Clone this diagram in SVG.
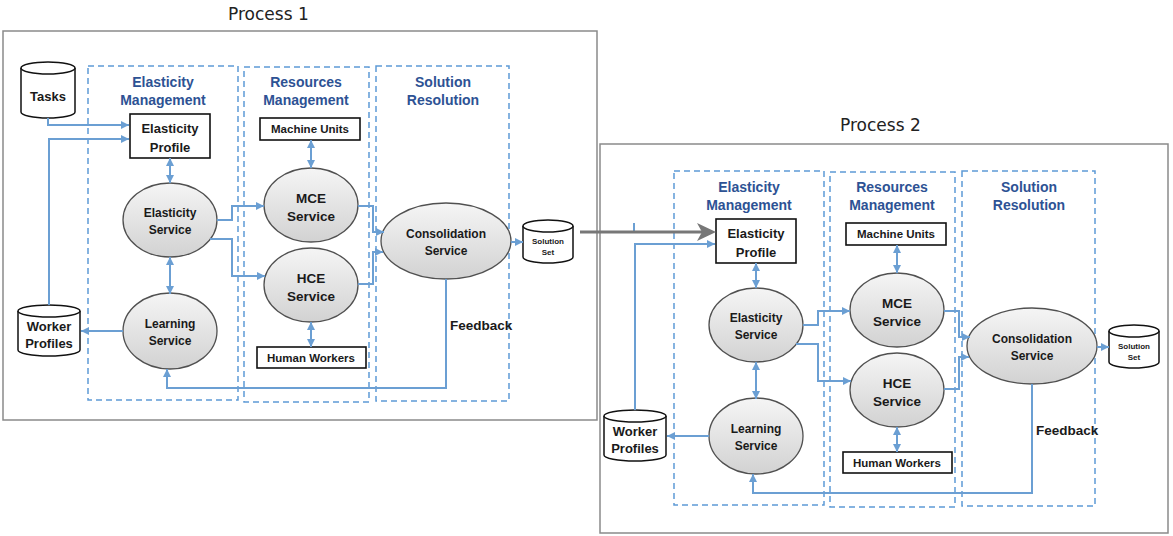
<svg xmlns="http://www.w3.org/2000/svg" width="1173" height="536" viewBox="0 0 1173 536">
<defs>
<style>
.frame{fill:#fff;stroke:#8a8a8a;stroke-width:1.5}
.ptitle{font-family:"DejaVu Sans",sans-serif;font-size:17px;fill:#222}
.lane{fill:none;stroke:#5e9bd6;stroke-width:1.5;stroke-dasharray:6 4}
.lt{font-family:"Liberation Sans",Arial,sans-serif;font-weight:bold;font-size:14px;fill:#2d5294;text-anchor:middle}
.svc{fill:url(#eg);stroke:#505050;stroke-width:1.3}
.box{fill:#fff;stroke:#111;stroke-width:1.6}
.cyl{fill:#fff;stroke:#111;stroke-width:1.5}
.t{font-family:"Liberation Sans",Arial,sans-serif;font-weight:bold;fill:#1a1a1a;text-anchor:middle}
.s12{font-size:12px}.s13{font-size:13px}.s135{font-size:13.5px}.s115{font-size:11.5px}.s8{font-size:8px}
.c{fill:none;stroke:#6b9fd3;stroke-width:2}
.fb{font-family:"Liberation Sans",Arial,sans-serif;font-weight:bold;font-size:13.5px;fill:#1a1a1a}
</style>
<marker id="ah" viewBox="0 0 10 10" refX="10" refY="5" markerUnits="userSpaceOnUse" markerWidth="8" markerHeight="8" orient="auto-start-reverse">
<path d="M0,0 L10,5 L0,10 Z" fill="#6b9fd3"/>
</marker>
<linearGradient id="eg" x1="0" y1="0" x2="0" y2="1">
<stop offset="0" stop-color="#f5f5f5"/>
<stop offset="1" stop-color="#d2d2d2"/>
</linearGradient>
</defs>

<g id="process1-frame">
<rect class="frame" x="3" y="31" width="594" height="389"/>
<text class="ptitle" x="228" y="20">Process 1</text>
</g>
<g id="process2-frame">
<rect class="frame" x="600" y="144" width="568" height="389"/>
<text class="ptitle" x="840" y="131">Process 2</text>
</g>

<!-- Process 1 -->
<g id="p1">
<g id="p1-lane-elasticity"><rect class="lane" x="88" y="66" width="150" height="334"/><text class="lt" x="163" y="87">Elasticity</text><text class="lt" x="163" y="105">Management</text></g>
<g id="p1-lane-resources"><rect class="lane" x="244" y="67" width="125" height="335"/><text class="lt" x="306" y="87">Resources</text><text class="lt" x="306" y="105">Management</text></g>
<g id="p1-lane-solution"><rect class="lane" x="376" y="66" width="133" height="335"/><text class="lt" x="443" y="87">Solution</text><text class="lt" x="443" y="105">Resolution</text></g>

<g id="p1-tasks"><path class="cyl" d="M21,68 V112 A27,6 0 0 0 75,112 V68"/><ellipse class="cyl" cx="48" cy="68" rx="27" ry="6"/><text class="t s13" x="48" y="101">Tasks</text></g>
<g id="p1-worker-profiles"><path class="cyl" d="M18,311 V350 A31,6 0 0 0 80,350 V311"/><ellipse class="cyl" cx="49" cy="311" rx="31" ry="6"/><text class="t s13" x="49" y="331">Worker</text><text class="t s13" x="49" y="348">Profiles</text></g>
<g id="p1-elasticity-profile"><rect class="box" x="130" y="114" width="80" height="44"/><text class="t s13" x="170" y="133">Elasticity</text><text class="t s13" x="170" y="152">Profile</text></g>
<g id="p1-elasticity-service"><ellipse class="svc" cx="170" cy="220" rx="47" ry="37"/><text class="t s12" x="170" y="217">Elasticity</text><text class="t s12" x="170" y="234">Service</text></g>
<g id="p1-learning-service"><ellipse class="svc" cx="170" cy="331" rx="47" ry="38"/><text class="t s12" x="170" y="328">Learning</text><text class="t s12" x="170" y="345">Service</text></g>
<g id="p1-machine-units"><rect class="box" x="260" y="118" width="100" height="22"/><text class="t s115" x="310" y="133">Machine Units</text></g>
<g id="p1-mce-service"><ellipse class="svc" cx="311" cy="205" rx="47" ry="37"/><text class="t s135" x="311" y="203">MCE</text><text class="t s135" x="311" y="221">Service</text></g>
<g id="p1-hce-service"><ellipse class="svc" cx="311" cy="285" rx="47" ry="37"/><text class="t s135" x="311" y="283">HCE</text><text class="t s135" x="311" y="301">Service</text></g>
<g id="p1-human-workers"><rect class="box" x="257" y="347" width="109" height="21"/><text class="t s115" x="311" y="362">Human Workers</text></g>
<g id="p1-consolidation-service"><ellipse class="svc" cx="446" cy="241" rx="65" ry="38"/><text class="t s12" x="446" y="238">Consolidation</text><text class="t s12" x="446" y="255">Service</text></g>
<g id="p1-solution-set"><path class="cyl" d="M523,226 V257 A25,6 0 0 0 573,257 V226"/><ellipse class="cyl" cx="548" cy="226" rx="25" ry="6"/><text class="t s8" x="548" y="244">Solution</text><text class="t s8" x="548" y="255">Set</text></g>
<text class="fb" x="450" y="330">Feedback</text>
</g>

<g id="p1-connectors">
<path class="c" d="M48,118 V125 H129" marker-end="url(#ah)"/>
<path class="c" d="M49,305 V139 H129" marker-end="url(#ah)"/>
<path class="c" d="M170,158 V183" marker-start="url(#ah)" marker-end="url(#ah)"/>
<path class="c" d="M170,257 V294" marker-start="url(#ah)" marker-end="url(#ah)"/>
<path class="c" d="M217,220 H232 V206 H264" marker-end="url(#ah)"/>
<path class="c" d="M210,239 H232 V276 H265" marker-end="url(#ah)"/>
<path class="c" d="M311,140 V168" marker-start="url(#ah)" marker-end="url(#ah)"/>
<path class="c" d="M311,322 V347" marker-start="url(#ah)" marker-end="url(#ah)"/>
<path class="c" d="M358,206 H373 V232 H384" marker-end="url(#ah)"/>
<path class="c" d="M358,284 H373 V252 H383" marker-end="url(#ah)"/>
<path class="c" d="M511,242 H523" marker-end="url(#ah)"/>
<path class="c" d="M123,331 H81" marker-end="url(#ah)"/>
<path class="c" d="M446,279 V388 H167 V369" marker-end="url(#ah)"/>
</g>

<!-- Process 2 -->
<g id="p2" transform="translate(586,105)">
<g id="p2-lane-elasticity"><rect class="lane" x="88" y="66" width="150" height="334"/><text class="lt" x="163" y="87">Elasticity</text><text class="lt" x="163" y="105">Management</text></g>
<g id="p2-lane-resources"><rect class="lane" x="244" y="67" width="125" height="335"/><text class="lt" x="306" y="87">Resources</text><text class="lt" x="306" y="105">Management</text></g>
<g id="p2-lane-solution"><rect class="lane" x="376" y="66" width="133" height="335"/><text class="lt" x="443" y="87">Solution</text><text class="lt" x="443" y="105">Resolution</text></g>

<g id="p2-worker-profiles"><path class="cyl" d="M18,311 V350 A31,6 0 0 0 80,350 V311"/><ellipse class="cyl" cx="49" cy="311" rx="31" ry="6"/><text class="t s13" x="49" y="331">Worker</text><text class="t s13" x="49" y="348">Profiles</text></g>
<g id="p2-elasticity-profile"><rect class="box" x="130" y="114" width="80" height="44"/><text class="t s13" x="170" y="133">Elasticity</text><text class="t s13" x="170" y="152">Profile</text></g>
<g id="p2-elasticity-service"><ellipse class="svc" cx="170" cy="220" rx="47" ry="37"/><text class="t s12" x="170" y="217">Elasticity</text><text class="t s12" x="170" y="234">Service</text></g>
<g id="p2-learning-service"><ellipse class="svc" cx="170" cy="331" rx="47" ry="38"/><text class="t s12" x="170" y="328">Learning</text><text class="t s12" x="170" y="345">Service</text></g>
<g id="p2-machine-units"><rect class="box" x="260" y="118" width="100" height="22"/><text class="t s115" x="310" y="133">Machine Units</text></g>
<g id="p2-mce-service"><ellipse class="svc" cx="311" cy="205" rx="47" ry="37"/><text class="t s135" x="311" y="203">MCE</text><text class="t s135" x="311" y="221">Service</text></g>
<g id="p2-hce-service"><ellipse class="svc" cx="311" cy="285" rx="47" ry="37"/><text class="t s135" x="311" y="283">HCE</text><text class="t s135" x="311" y="301">Service</text></g>
<g id="p2-human-workers"><rect class="box" x="257" y="347" width="109" height="21"/><text class="t s115" x="311" y="362">Human Workers</text></g>
<g id="p2-consolidation-service"><ellipse class="svc" cx="446" cy="241" rx="65" ry="38"/><text class="t s12" x="446" y="238">Consolidation</text><text class="t s12" x="446" y="255">Service</text></g>
<g id="p2-solution-set"><path class="cyl" d="M523,226 V257 A25,6 0 0 0 573,257 V226"/><ellipse class="cyl" cx="548" cy="226" rx="25" ry="6"/><text class="t s8" x="548" y="244">Solution</text><text class="t s8" x="548" y="255">Set</text></g>
<text class="fb" x="450" y="330">Feedback</text>
</g>

<g id="p2-connectors" transform="translate(586,105)">
<path class="c" d="M48,118 V127"/>
<path class="c" d="M49,305 V139 H129" marker-end="url(#ah)"/>
<path class="c" d="M170,158 V183" marker-start="url(#ah)" marker-end="url(#ah)"/>
<path class="c" d="M170,257 V294" marker-start="url(#ah)" marker-end="url(#ah)"/>
<path class="c" d="M217,220 H232 V206 H264" marker-end="url(#ah)"/>
<path class="c" d="M210,239 H232 V276 H265" marker-end="url(#ah)"/>
<path class="c" d="M311,140 V168" marker-start="url(#ah)" marker-end="url(#ah)"/>
<path class="c" d="M311,322 V347" marker-start="url(#ah)" marker-end="url(#ah)"/>
<path class="c" d="M358,206 H373 V232 H384" marker-end="url(#ah)"/>
<path class="c" d="M358,284 H373 V252 H383" marker-end="url(#ah)"/>
<path class="c" d="M511,242 H523" marker-end="url(#ah)"/>
<path class="c" d="M123,331 H81" marker-end="url(#ah)"/>
<path class="c" d="M446,279 V388 H167 V369" marker-end="url(#ah)"/>
</g>

<g id="process-link">
<path d="M580,232 H705" fill="none" stroke="#777" stroke-width="3"/>
<polygon points="716,232 697,223 702,232 697,241" fill="#777"/>
</g>
</svg>
